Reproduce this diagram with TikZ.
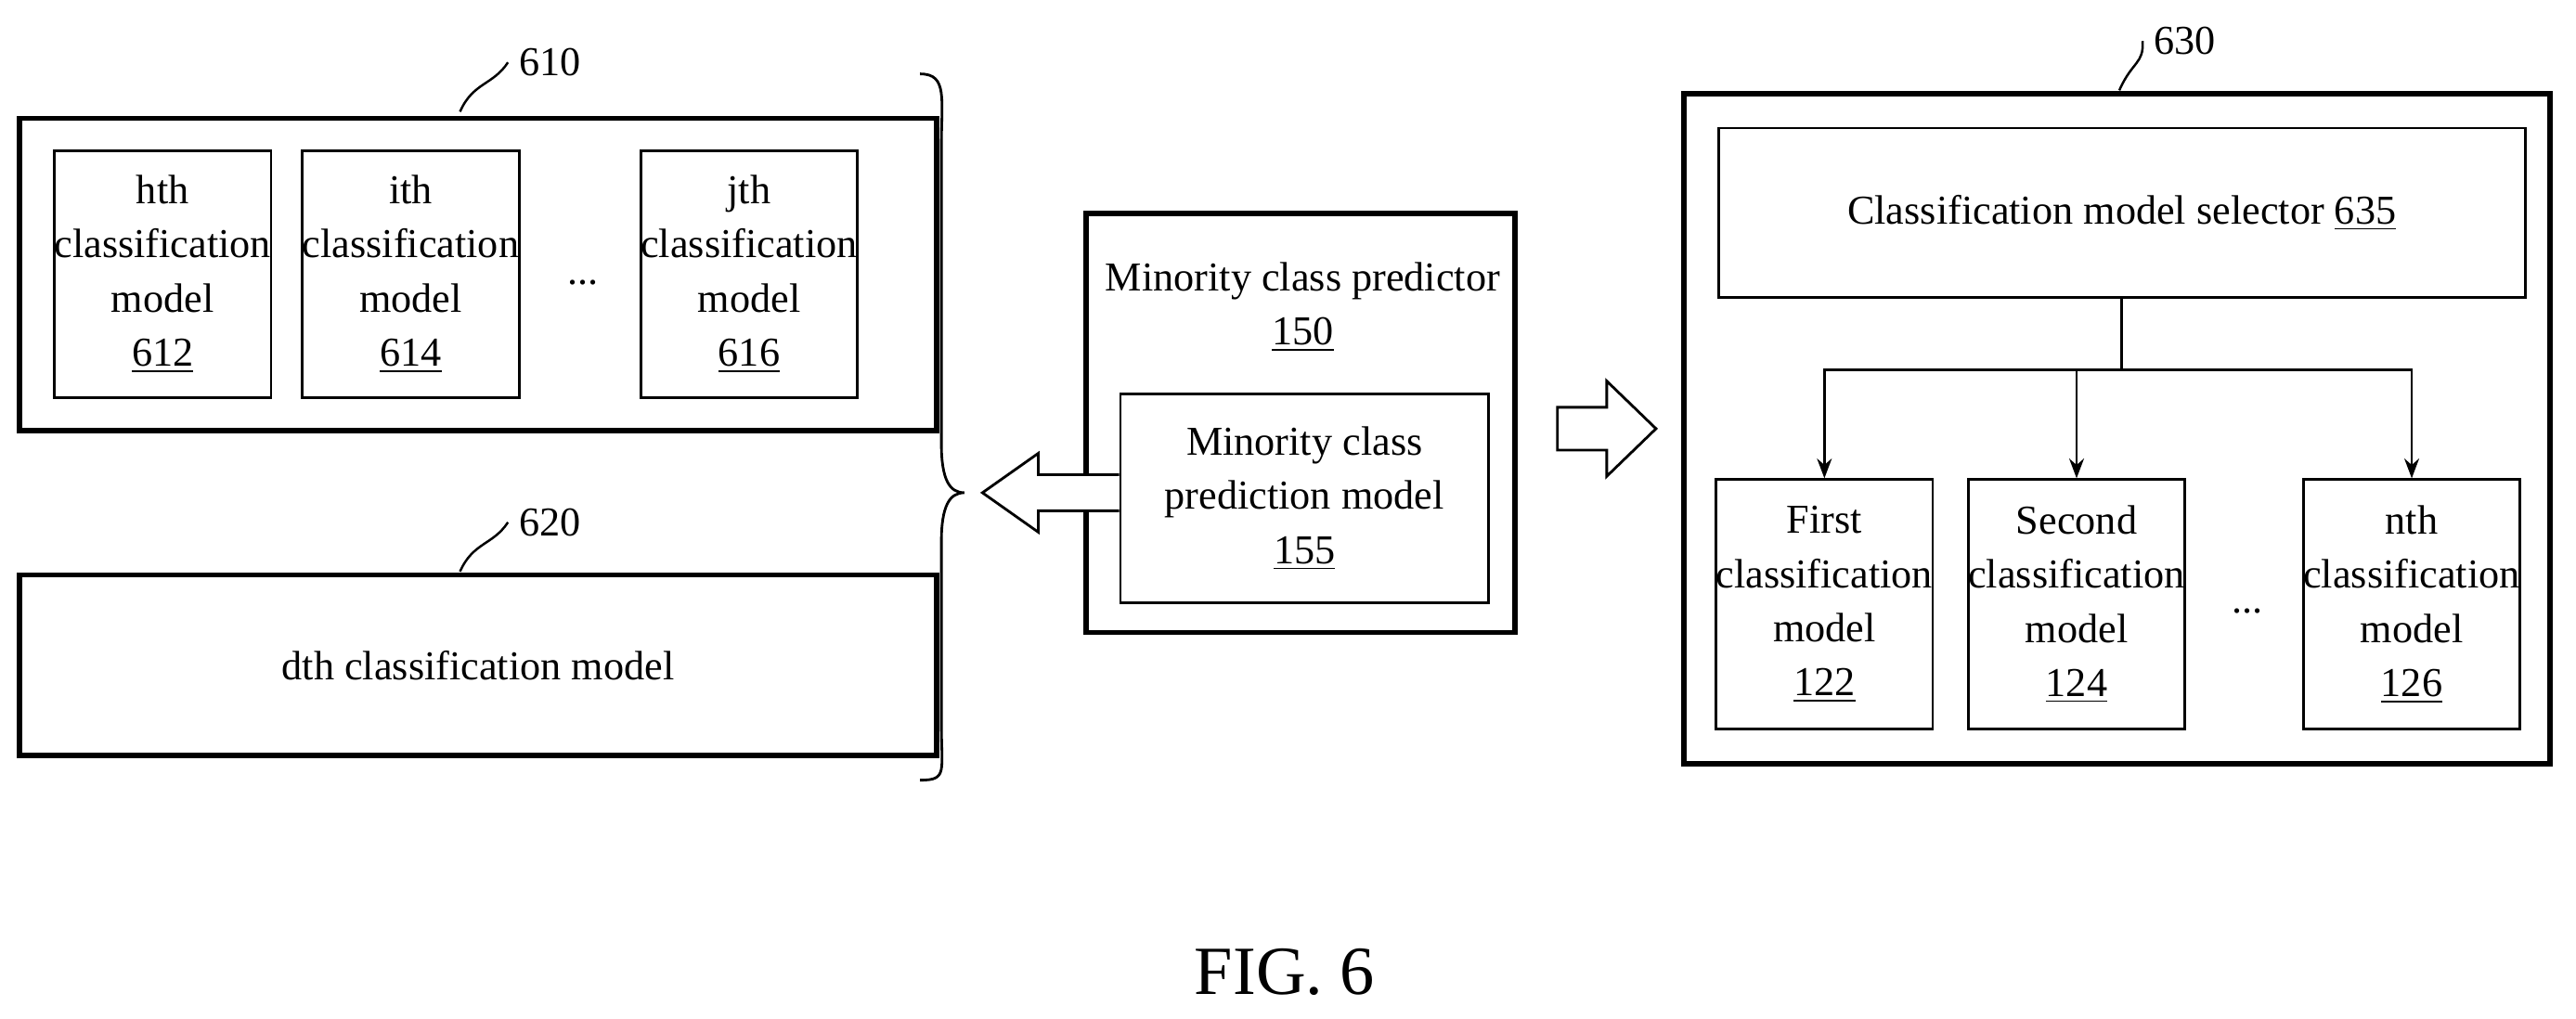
\documentclass[tikz,border=0pt]{standalone}
\usepackage{fontspec}
\setmainfont{Liberation Serif}
\usetikzlibrary{arrows.meta,decorations.pathreplacing}
\begin{document}
\begin{tikzpicture}[x=0.5pt,y=-0.5pt,
  thick box/.style={draw,line width=1.6pt,inner sep=0pt},
  box/.style={draw,line width=0.8pt,align=center,inner sep=0pt,font=\fontsize{12.5pt}{16.5pt}\selectfont},
  lbl/.style={font=\fontsize{12.5pt}{16pt}\selectfont},
  lead/.style={line width=0.7pt},
  conn/.style={line width=0.8pt,-{Stealth[length=6pt,width=4.5pt]}},
  hollow/.style={draw,line width=0.8pt,fill=white}]
\useasboundingbox (0,0) rectangle (1568,620);
% 610
\node[thick box,minimum width=279pt,minimum height=95pt] (g610) at (291,167) {};
\node[box,minimum width=66pt,minimum height=75pt] (m612) at (99,167) {hth\\classification\\model\\\underline{612}};
\node[box,minimum width=66pt,minimum height=75pt] (m614) at (250,167) {ith\\classification\\model\\\underline{614}};
\node[box,minimum width=66pt,minimum height=75pt] (m616) at (456,167) {jth\\classification\\model\\\underline{616}};
\node[lbl] (d1) at (355,172) {...};
\node[lbl] (l610) at (335,38) {610};
\draw[lead] (280,68) .. controls (288,50) and (300,52) .. (l610.west);
% 620
\node[box,line width=1.6pt,minimum width=279pt,minimum height=55pt] (m620) at (291,405) {dth classification model};
\node[lbl] (l620) at (335,318) {620};
\draw[lead] (280,348) .. controls (288,330) and (300,332) .. (l620.west);
% brace
\draw[line width=0.8pt] (560,45) .. controls (577,45) and (573,60) .. (573,90) -- (573,270) .. controls (573,292) and (578,300) .. (587,300) .. controls (578,300) and (573,308) .. (573,330) -- (573,440) .. controls (573,470) and (577,475) .. (560,475);
% middle
\node[thick box,minimum width=130.5pt,minimum height=127.5pt] (m150) at (791.5,257.5) {};
\node[box,draw=none] (t150) at (793,187) {Minority class predictor\\\underline{150}};
\node[box,minimum width=112pt,minimum height=63.5pt] (m155) at (794,303.5) {Minority class\\prediction model\\\underline{155}};
\draw[hollow] (m155.west |- 0,289) -- (632,289) -- (632,276) -- (598,300) -- (632,324) -- (632,311) -- (m155.west |- 0,311);
% right arrow
\draw[hollow] (948,248) -- (978,248) -- (978,232) -- (1008,261) -- (978,290) -- (978,274) -- (948,274) -- cycle;
% 630
\node[thick box,minimum width=263.5pt,minimum height=204pt] (g630) at (1288.5,261) {};
\node[lbl] (l630) at (1330,25) {630};
\draw[lead] (1290,55) .. controls (1298,37) and (1305,39) .. (l630.west);
\node[box,minimum width=245.5pt,minimum height=51.5pt] (sel) at (1291.5,129.5) {Classification model selector \underline{635}};
\node[box,minimum width=64.5pt,minimum height=76pt] (m122) at (1110.5,368) {First\\classification\\model\\\underline{122}};
\node[box,minimum width=64.5pt,minimum height=76pt] (m124) at (1264,368) {Second\\classification\\model\\\underline{124}};
\node[box,minimum width=64.5pt,minimum height=76pt] (m126) at (1468,368) {nth\\classification\\model\\\underline{126}};
\node[lbl] (d2) at (1368,372) {...};
\coordinate (j) at (sel.south |- 0,225);
\draw[line width=0.8pt] (sel.south) -- (j);
\draw[conn] (j) -| (m122.north);
\draw[conn] (j) -| (m124.north);
\draw[conn] (j) -| (m126.north);
\node[font=\fontsize{21pt}{24pt}\selectfont] (fig) at (782,592) {FIG. 6};
\end{tikzpicture}
\end{document}
